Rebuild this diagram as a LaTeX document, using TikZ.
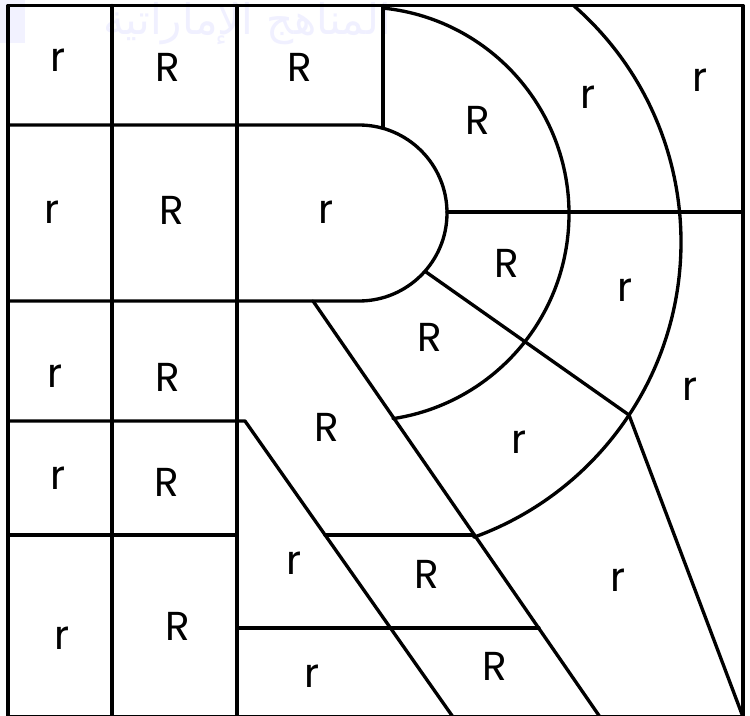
\documentclass[tikz,border=0pt]{standalone}
\usepackage{fontspec}
\setmainfont{Poppins}
\newfontfamily\arabicfont[Script=Arabic]{DejaVu Sans}
\TeXXeTstate=1
\begin{document}
\begin{tikzpicture}[x=0.02cm,y=-0.02cm,
  edge/.style={line width=1.9pt, line cap=round, line join=round},
  lbl/.style={font=\fontsize{23}{23}\selectfont, inner sep=0pt},
  wmark/.style={text=blue!6, font=\arabicfont\fontsize{24}{24}\selectfont, inner sep=0pt}]
\useasboundingbox (0,0) rectangle (750,716);
\fill[white] (0,0) rectangle (750,716);
% faint watermark
\fill[blue!5] (0,0) rectangle (25,43);
\node[wmark] (wm) at (247,24) {\beginR المناهج الإماراتية\endR};
% key points
\coordinate (TL) at (8,5.5);
\coordinate (BR) at (743,717);
\coordinate (C0) at (359,213);   % stadium centre
\coordinate (C1) at (362,214);   % inner arc centre
\coordinate (C2) at (367,242);   % outer arc centre
\coordinate (P)  at (629,415);   % meeting point on outer arc
\coordinate (Q)  at (426,272);   % ray start on stadium
% frame
\draw[edge] (TL) rectangle (BR);
% grid verticals
\draw[edge] (112,5.5) -- (112,717);
\draw[edge] (237,5.5) -- (237,717);
\draw[edge] (383,5.5) -- (383,128.3);
% stadium
\draw[edge] (8,125) -- (359,125) arc[start angle=-90, end angle=90, radius=88] -- (8,301);
% left rows
\draw[edge] (8,421) -- (245,421) -- (453,717);
\draw[edge] (8,535) -- (237,535);
\draw[edge] (237,628) -- (539,628);
\draw[edge] (325,535) -- (473.9,535);
% second diagonal
\draw[edge] (313,301) -- (600,717);
% right horizontal
\draw[edge] (447,212) -- (743,212);
% arcs
\draw[edge] (C1) ++(-84.2:207) arc[start angle=-84.2, end angle=81.4, radius=207];
\draw[edge] (C2) ++(-48.9:314) arc[start angle=-48.9, end angle=70.1, radius=314];
% ray and last line
\draw[edge] (Q) -- (P);
\draw[edge] (P) -- (743,717);
% labels
\node[lbl] (l1)  at (58,60)   {r};
\node[lbl] (l2)  at (168,67)  {R};
\node[lbl] (l3)  at (300,67)  {R};
\node[lbl] (l4)  at (478,120) {R};
\node[lbl] (l5)  at (588,97)  {r};
\node[lbl] (l6)  at (700,80)  {r};
\node[lbl] (l7)  at (52,212)  {r};
\node[lbl] (l8)  at (172,210) {R};
\node[lbl] (l9)  at (326,212) {r};
\node[lbl] (l10) at (507,263) {R};
\node[lbl] (l11) at (625,290) {r};
\node[lbl] (l12) at (430,337) {R};
\node[lbl] (l13) at (690,389) {r};
\node[lbl] (l14) at (55,376)  {r};
\node[lbl] (l15) at (168,377) {R};
\node[lbl] (l16) at (327,427) {R};
\node[lbl] (l17) at (519,442) {r};
\node[lbl] (l18) at (58,478)  {r};
\node[lbl] (l19) at (167,482) {R};
\node[lbl] (l20) at (62,638)  {r};
\node[lbl] (l21) at (178,626) {R};
\node[lbl] (l22) at (294,563) {r};
\node[lbl] (l23) at (427,574) {R};
\node[lbl] (l24) at (618,580) {r};
\node[lbl] (l25) at (312,676) {r};
\node[lbl] (l26) at (495,666) {R};
\end{tikzpicture}
\end{document}
